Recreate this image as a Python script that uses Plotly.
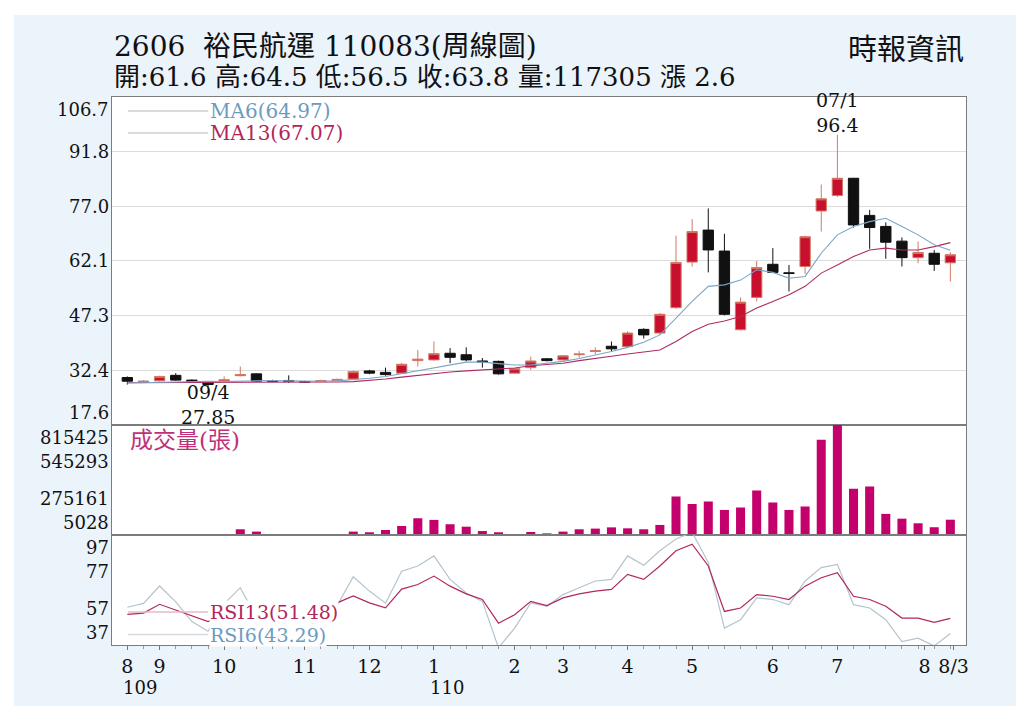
import plotly.graph_objects as go
from plotly.subplots import make_subplots

# weekly candles, index 0 = first week shown (109/8) ... 51 = 110/8/3
weeks = list(range(52))

opens = [30.4, 29.2, 29.5, 31.0, 29.7, 29.1, 29.4, 30.9, 31.4, 29.5,
         29.6, 29.3, 29.3, 29.6, 30.0, 32.2, 31.8, 31.6, 35.0, 35.2,
         37.0, 36.6, 34.9, 34.8, 31.6, 33.1, 35.5, 35.2, 36.6, 37.5,
         38.9, 38.8, 43.5, 42.5, 49.4, 61.8, 70.5, 64.8, 43.4, 52.2,
         61.2, 58.9, 60.6, 75.7, 79.9, 84.6, 74.5, 71.5, 67.5, 63.0,
         64.2, 61.6]
highs = [30.7, 29.7, 30.9, 31.6, 29.9, 29.3, 30.7, 33.4, 31.5, 29.8,
         31.0, 29.5, 29.8, 30.1, 32.3, 32.5, 33.1, 34.4, 37.9, 40.2,
         38.4, 38.6, 35.7, 35.0, 33.0, 36.1, 35.7, 36.5, 37.6, 38.6,
         40.2, 43.0, 43.8, 48.0, 69.0, 73.5, 76.4, 69.5, 52.2, 62.1,
         65.6, 61.0, 69.0, 82.9, 96.4, 84.7, 76.0, 72.6, 68.5, 67.4,
         65.1, 64.5]
lows = [28.5, 28.9, 29.3, 29.5, 29.0, 27.85, 29.1, 30.7, 29.2, 29.2,
        28.9, 29.0, 29.2, 29.5, 29.9, 31.3, 30.9, 31.4, 33.4, 35.0,
        34.3, 34.8, 33.1, 31.2, 31.4, 32.5, 34.8, 35.0, 35.8, 36.7,
        37.5, 38.5, 41.0, 42.0, 49.1, 60.6, 59.0, 47.3, 43.2, 51.1,
        58.8, 53.8, 58.6, 70.1, 79.5, 71.2, 65.4, 62.7, 60.6, 61.5,
        59.4, 56.5]
closes = [29.4, 29.4, 30.7, 29.7, 29.2, 28.5, 29.8, 31.2, 29.4, 29.4,
          29.4, 29.2, 29.6, 29.9, 32.0, 31.6, 31.2, 34.0, 35.4, 36.9,
          35.9, 35.2, 34.7, 31.4, 32.8, 34.9, 35.0, 36.3, 36.8, 37.7,
          38.2, 42.5, 42.0, 47.6, 61.7, 70.1, 65.1, 47.6, 50.9, 60.3,
          59.0, 58.7, 68.7, 79.0, 84.6, 71.9, 71.2, 67.2, 63.0, 64.4,
          61.2, 63.8]

ma6 = [28.9, 29.0, 29.1, 29.3, 29.4, 29.4, 29.3, 29.4, 29.6, 29.6,
       29.5, 29.4, 29.4, 29.5, 29.8, 30.2, 30.7, 31.5, 32.4, 33.2,
       33.9, 34.6, 34.6, 34.1, 33.8, 33.8, 34.2, 34.8, 35.6, 36.5,
       37.5, 38.6, 40.0, 42.0, 46.5, 51.1, 55.2, 55.6, 56.9, 59.7,
       59.0, 57.4, 57.9, 64.2, 69.2, 71.5, 72.8, 73.7, 71.5, 69.2,
       66.5, 65.0]
ma13 = [29.0, 29.0, 29.0, 29.1, 29.1, 29.1, 29.1, 29.2, 29.2, 29.2,
        29.2, 29.2, 29.2, 29.2, 29.3, 29.6, 30.0, 30.5, 31.0, 31.4,
        31.9, 32.2, 32.5, 32.7, 33.0, 33.6, 34.0, 34.3, 35.0, 35.7,
        36.2, 36.8, 37.3, 37.9, 40.2, 42.9, 44.9, 45.8, 47.0, 49.3,
        51.1, 52.9, 55.2, 58.8, 61.0, 63.3, 65.1, 65.6, 65.1, 65.1,
        66.0, 67.1]

volumes = [6000, 7000, 12000, 12000, 5028, 6000, 8000, 47000, 30000, 9000,
           9000, 6000, 10000, 10000, 30000, 25000, 42000, 71000, 128000, 116000,
           84000, 66000, 34000, 25000, 10000, 27000, 17000, 30000, 47000, 52000,
           61000, 54000, 47000, 79000, 287000, 233000, 251000, 189000, 206000, 332000,
           243000, 189000, 214000, 705000, 815425, 344000, 361000, 160000, 125000, 91000,
           62000, 117305]

rsi6 = [57.6, 59.7, 69.2, 60.5, 49.8, 44.5, 59.5, 68.3, 52.0, 50.5,
        48.0, 47.5, 50.0, 58.5, 74.2, 66.4, 59.8, 77.2, 80.1, 85.6,
        72.8, 65.4, 60.8, 35.5, 46.2, 60.0, 58.1, 64.5, 68.2, 71.9,
        72.8, 85.6, 80.5, 88.4, 94.8, 98.5, 82.0, 46.2, 50.8, 62.7,
        61.8, 59.0, 71.9, 79.2, 81.0, 59.0, 57.2, 50.8, 38.8, 40.7,
        36.5, 43.3]
rsi13 = [53.7, 54.4, 59.2, 56.0, 53.0, 49.8, 53.5, 56.5, 52.5, 52.0,
         51.0, 50.5, 52.0, 60.0, 63.8, 60.0, 57.3, 67.5, 70.0, 74.6,
         69.1, 64.9, 61.8, 48.9, 53.5, 60.8, 58.5, 62.7, 64.9, 66.4,
         67.3, 75.5, 72.8, 80.1, 88.4, 92.0, 80.1, 55.3, 57.2, 64.5,
         63.6, 61.8, 69.1, 73.7, 76.4, 63.6, 61.8, 58.1, 51.7, 51.7,
         49.3, 51.5]

month_pos = [0, 2, 6, 11, 15, 19, 24, 27, 31, 35, 40, 44, 49.4, 51.2]
month_text = ["8", "9", "10", "11", "12", "1", "2", "3", "4", "5", "6", "7", "8", "8/3"]
year_pos = [0, 19]
year_text = ["109", "110"]

price_ticks = [106.7, 91.8, 77.0, 62.1, 47.3, 32.4, 17.6]
vol_ticks = [815425, 545293, 275161, 5028]
rsi_ticks = [97, 77, 57, 37]

title_line1 = "2606\u00a0\u00a0裕民航運 110083(周線圖)"
title_line2 = "開:61.6 高:64.5 低:56.5 收:63.8 量:117305 漲 2.6"
source_text = "時報資訊"
ma_legend = ["MA6(64.97)", "MA13(67.07)"]
rsi_legend = ["RSI13(51.48)", "RSI6(43.29)"]
vol_title = "成交量(張)"

FONT = "DejaVu Serif, Noto Sans CJK TC, serif"
RED = "#c8102e"
MAGENTA = "#c4006c"
C_MA6 = "#7aa6c6"
C_MA13 = "#b02a62"

fig = make_subplots(rows=3, cols=1, shared_xaxes=True, vertical_spacing=0,
                    row_heights=[327.6, 110.4, 110])

fig.add_trace(go.Candlestick(x=weeks, open=opens, high=highs, low=lows, close=closes,
                             increasing=dict(line=dict(color="#d27a62", width=1), fillcolor=RED),
                             decreasing=dict(line=dict(color="#111111", width=1), fillcolor="#111111"),
                             whiskerwidth=0), row=1, col=1)
fig.add_trace(go.Scatter(x=weeks, y=ma13, mode="lines",
                         line=dict(color=C_MA13, width=1.1), hoverinfo="skip"), row=1, col=1)
fig.add_trace(go.Scatter(x=weeks, y=ma6, mode="lines",
                         line=dict(color=C_MA6, width=1.1), hoverinfo="skip"), row=1, col=1)

fig.add_trace(go.Bar(x=weeks, y=volumes, width=0.56, marker=dict(color=MAGENTA, line=dict(width=0))),
              row=2, col=1)

fig.add_trace(go.Scatter(x=weeks, y=rsi6, mode="lines",
                         line=dict(color="#b4c4ce", width=1.2), hoverinfo="skip"), row=3, col=1)
fig.add_trace(go.Scatter(x=weeks, y=rsi13, mode="lines",
                         line=dict(color="#b0285e", width=1.2), hoverinfo="skip"), row=3, col=1)

axis_line = dict(showline=True, linecolor="#7c7c7c", linewidth=1, mirror=True, zeroline=False)

for r in (1, 2, 3):
    fig.update_xaxes(range=[-0.95, 51.97], showgrid=False, rangeslider_visible=False,
                     **axis_line, row=r, col=1)
fig.update_xaxes(tickmode="array", tickvals=month_pos, ticktext=month_text,
                 ticks="outside", ticklen=4, tickcolor="#777",
                 minor=dict(dtick=1, tick0=0, ticks="outside", ticklen=3, tickcolor="#999"),
                 tickfont=dict(family=FONT, size=19, color="#111"), row=3, col=1)

fig.update_yaxes(range=[17.6, 106.7], tickvals=price_ticks[1:-1], showticklabels=False,
                 showgrid=True, gridcolor="#dcdcdc", gridwidth=1, **axis_line, row=1, col=1)
fig.update_yaxes(range=[5028, 815425], showticklabels=False, showgrid=False,
                 **axis_line, row=2, col=1)
fig.update_yaxes(range=[37, 97], showticklabels=False, showgrid=False,
                 **axis_line, row=3, col=1)

ann = []
# y-axis labels (end labels kept inside their panel)
for ref, vals in (("y", price_ticks), ("y2", vol_ticks), ("y3", rsi_ticks)):
    for i, v in enumerate(vals):
        anchor = "top" if i == 0 else ("bottom" if i == len(vals) - 1 else "middle")
        ann.append(dict(xref="paper", yref=ref, x=0, y=v, xanchor="right", yanchor=anchor,
                        xshift=-1, text=str(v) if ref != "y" else f"{v:.1f}",
                        showarrow=False, font=dict(family=FONT, size=18, color="#111")))

for p, t in zip(year_pos, year_text):
    ann.append(dict(xref="x3", yref="paper", x=p, y=-0.078, xanchor="left", yanchor="middle",
                    xshift=-6, text=t, showarrow=False, font=dict(family=FONT, size=18, color="#111")))

ann.append(dict(xref="paper", yref="paper", x=0.0, y=1.0925, xanchor="left", yanchor="middle",
                text=title_line1, showarrow=False, font=dict(family=FONT, size=28, color="#111")))
ann.append(dict(xref="paper", yref="paper", x=0.0, y=1.0365, xanchor="left", yanchor="middle",
                text=title_line2, showarrow=False, font=dict(family=FONT, size=26, color="#111")))
ann.append(dict(xref="paper", yref="paper", x=1.0, y=1.0858, xanchor="right", yanchor="middle",
                text=source_text, showarrow=False, font=dict(family=FONT, size=29, color="#111")))

# high / low markers
i_hi = highs.index(max(highs))
i_lo = lows.index(min(lows))
ann.append(dict(xref="x", yref="y", x=i_hi, y=highs[i_hi], xanchor="center", yanchor="bottom",
                yshift=-3, text="07/1<br>" + str(highs[i_hi]), showarrow=False,
                font=dict(family=FONT, size=19, color="#111")))
ann.append(dict(xref="x", yref="y", x=i_lo, y=lows[i_lo], xanchor="center", yanchor="top",
                yshift=8, text="09/4<br>" + str(lows[i_lo]), showarrow=False,
                font=dict(family=FONT, size=19, color="#111")))

# legends
ann.append(dict(xref="paper", yref="paper", x=0.1124, y=0.9745, xanchor="left", yanchor="middle",
                text=ma_legend[0], showarrow=False, font=dict(family=FONT, size=20, color="#6b9bc0")))
ann.append(dict(xref="paper", yref="paper", x=0.1124, y=0.9343, xanchor="left", yanchor="middle",
                text=ma_legend[1], showarrow=False, font=dict(family=FONT, size=20, color="#b3245a")))
ann.append(dict(xref="paper", yref="paper", x=0.1136, y=0.0602, xanchor="left", yanchor="middle",
                text=rsi_legend[0], showarrow=False, bgcolor="white", borderpad=0,
                font=dict(family=FONT, size=19, color="#b3245a")))
ann.append(dict(xref="paper", yref="paper", x=0.1136, y=0.0190, xanchor="left", yanchor="middle",
                text=rsi_legend[1], showarrow=False, bgcolor="white", borderpad=0,
                font=dict(family=FONT, size=19, color="#6b9bc0")))
ann.append(dict(xref="paper", yref="paper", x=0.0187, y=0.374, xanchor="left", yanchor="middle",
                text=vol_title, showarrow=False, font=dict(family=FONT, size=23, color="#c0307a")))

shapes = [
    dict(type="rect", xref="paper", yref="paper", x0=-0.1148, x1=1.0667, y0=-0.1113, y1=1.1496,
         fillcolor="#ebf3fb", line=dict(width=0), layer="below"),
    dict(type="rect", xref="paper", yref="paper", x0=0, x1=1, y0=0, y1=1,
         fillcolor="white", line=dict(width=0), layer="below"),
]
for yy, col in ((0.9745, "#cfcfcf"), (0.9343, "#cfcfcf"), (0.0602, "#e6b8c8"), (0.0190, "#d2dadf")):
    shapes.append(dict(type="line", xref="paper", yref="paper", x0=0.0187, x1=0.1124, y0=yy, y1=yy,
                       line=dict(color=col, width=1.5)))

fig.update_layout(
    width=1024, height=709,
    margin=dict(l=104, r=66, t=89, b=72),
    paper_bgcolor="white", plot_bgcolor="white",
    showlegend=False, boxgap=0.2, boxgroupgap=0.2, bargap=0.5,
    font=dict(family=FONT, color="#111"),
    annotations=ann, shapes=shapes,
)

fig.write_html("out.html")
